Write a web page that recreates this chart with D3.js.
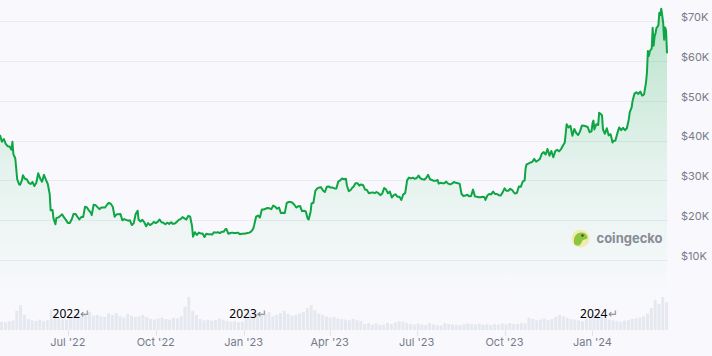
<!DOCTYPE html>
<html><head><meta charset="utf-8">
<script src="https://cdn.jsdelivr.net/npm/d3@7"></script>
<style>html,body{margin:0;padding:0;background:#f9f9fd;}svg{display:block;font-family:Inter,"Noto Sans",sans-serif;}</style>
</head><body><svg id="c" width="712" height="356"></svg>
<script>
// Bitcoin price (thousand USD)
const priceDates = [
"2022-04-21","2022-04-23","2022-04-25","2022-04-27","2022-04-29","2022-05-01","2022-05-03","2022-05-04","2022-05-05","2022-05-07","2022-05-09","2022-05-11","2022-05-12","2022-05-14","2022-05-15","2022-05-17","2022-05-19","2022-05-21","2022-05-23","2022-05-25","2022-05-27","2022-05-29","2022-05-31","2022-06-02","2022-06-04","2022-06-06","2022-06-08","2022-06-10","2022-06-12","2022-06-13","2022-06-15","2022-06-16","2022-06-18","2022-06-19","2022-06-21","2022-06-23","2022-06-25","2022-06-27","2022-06-29",
"2022-07-01","2022-07-03","2022-07-05","2022-07-07","2022-07-09","2022-07-11","2022-07-13","2022-07-15","2022-07-17","2022-07-19","2022-07-21","2022-07-23","2022-07-25","2022-07-26","2022-07-28","2022-07-30","2022-08-01","2022-08-03","2022-08-05","2022-08-07","2022-08-09","2022-08-11","2022-08-13","2022-08-15","2022-08-17","2022-08-19","2022-08-21","2022-08-23","2022-08-25","2022-08-27","2022-08-29","2022-08-31","2022-09-02","2022-09-04","2022-09-06","2022-09-08","2022-09-10","2022-09-12","2022-09-13","2022-09-15","2022-09-17","2022-09-19","2022-09-21","2022-09-23","2022-09-25","2022-09-27","2022-09-29",
"2022-10-01","2022-10-03","2022-10-05","2022-10-07","2022-10-09","2022-10-11","2022-10-13","2022-10-15","2022-10-17","2022-10-19","2022-10-21","2022-10-23","2022-10-25","2022-10-27","2022-10-29","2022-10-31","2022-11-02","2022-11-04","2022-11-06","2022-11-08","2022-11-09","2022-11-11","2022-11-13","2022-11-15","2022-11-17","2022-11-19","2022-11-21","2022-11-23","2022-11-25","2022-11-27","2022-11-29","2022-12-01","2022-12-03","2022-12-05","2022-12-07","2022-12-09","2022-12-11","2022-12-13","2022-12-14","2022-12-16","2022-12-18","2022-12-20","2022-12-22","2022-12-24","2022-12-26","2022-12-28","2022-12-30",
"2023-01-01","2023-01-03","2023-01-05","2023-01-07","2023-01-09","2023-01-11","2023-01-12","2023-01-14","2023-01-16","2023-01-18","2023-01-20","2023-01-22","2023-01-24","2023-01-26","2023-01-28","2023-01-30","2023-02-01","2023-02-03","2023-02-05","2023-02-07","2023-02-09","2023-02-11","2023-02-13","2023-02-15","2023-02-17","2023-02-19","2023-02-21","2023-02-23","2023-02-25","2023-02-27","2023-03-01","2023-03-03","2023-03-05","2023-03-07","2023-03-09","2023-03-10","2023-03-12","2023-03-13","2023-03-15","2023-03-17","2023-03-19","2023-03-21","2023-03-23","2023-03-25","2023-03-27","2023-03-29","2023-03-31",
"2023-04-02","2023-04-04","2023-04-06","2023-04-08","2023-04-10","2023-04-12","2023-04-14","2023-04-16","2023-04-18","2023-04-19","2023-04-21","2023-04-23","2023-04-25","2023-04-26","2023-04-28","2023-04-30","2023-05-02","2023-05-04","2023-05-06","2023-05-08","2023-05-10","2023-05-12","2023-05-14","2023-05-16","2023-05-18","2023-05-20","2023-05-22","2023-05-24","2023-05-26","2023-05-28","2023-05-30","2023-06-01","2023-06-03","2023-06-05","2023-06-07","2023-06-09","2023-06-11","2023-06-13","2023-06-15","2023-06-17","2023-06-19","2023-06-20","2023-06-21","2023-06-23","2023-06-25","2023-06-27","2023-06-29",
"2023-07-01","2023-07-03","2023-07-05","2023-07-07","2023-07-09","2023-07-11","2023-07-13","2023-07-15","2023-07-17","2023-07-19","2023-07-21","2023-07-23","2023-07-24","2023-07-26","2023-07-28","2023-07-30","2023-08-01","2023-08-03","2023-08-05","2023-08-07","2023-08-09","2023-08-11","2023-08-13","2023-08-15","2023-08-17","2023-08-19","2023-08-21","2023-08-23","2023-08-25","2023-08-27","2023-08-29","2023-08-31","2023-09-02","2023-09-04","2023-09-06","2023-09-08","2023-09-10","2023-09-11","2023-09-13","2023-09-15","2023-09-17","2023-09-19","2023-09-21","2023-09-23","2023-09-25","2023-09-27","2023-09-29",
"2023-10-01","2023-10-03","2023-10-05","2023-10-07","2023-10-09","2023-10-11","2023-10-12","2023-10-14","2023-10-16","2023-10-18","2023-10-20","2023-10-22","2023-10-23","2023-10-24","2023-10-26","2023-10-28","2023-10-30","2023-11-01","2023-11-03","2023-11-05","2023-11-07","2023-11-09","2023-11-11","2023-11-13","2023-11-15","2023-11-17","2023-11-19","2023-11-21","2023-11-23","2023-11-25","2023-11-27","2023-11-29","2023-12-01","2023-12-03","2023-12-05","2023-12-07","2023-12-09","2023-12-11","2023-12-13","2023-12-15","2023-12-17","2023-12-19","2023-12-21","2023-12-23","2023-12-25","2023-12-27","2023-12-29","2023-12-31",
"2024-01-01","2024-01-02","2024-01-03","2024-01-05","2024-01-07","2024-01-08","2024-01-10","2024-01-11","2024-01-12","2024-01-14","2024-01-16","2024-01-18","2024-01-20","2024-01-22","2024-01-23","2024-01-25","2024-01-27","2024-01-29","2024-01-31","2024-02-02","2024-02-04","2024-02-06","2024-02-08","2024-02-09","2024-02-11","2024-02-12","2024-02-14","2024-02-16","2024-02-18","2024-02-20","2024-02-22","2024-02-24","2024-02-26","2024-02-27","2024-02-28","2024-02-29","2024-03-01","2024-03-03","2024-03-04","2024-03-05","2024-03-06","2024-03-07","2024-03-08","2024-03-09","2024-03-10","2024-03-11","2024-03-12","2024-03-13","2024-03-14","2024-03-15","2024-03-16","2024-03-17","2024-03-18","2024-03-19"
];
const priceValues = [
41.4,39.7,40.4,39.2,38.6,38.5,37.7,39.7,36.6,35.5,30.3,29.0,28.9,30.1,31.3,30.4,30.3,29.4,29.1,29.6,28.6,29.4,31.8,30.5,29.7,31.4,30.2,29.1,26.6,22.5,22.6,20.4,19.0,20.6,20.7,21.1,21.5,20.7,20.1,
19.3,19.3,20.2,21.6,21.6,20.9,20.2,20.8,20.8,23.4,23.2,22.5,21.9,21.3,23.9,23.8,23.3,22.8,23.2,23.2,23.2,23.9,24.4,24.1,23.4,20.9,21.5,21.5,21.6,20.0,20.3,20.1,19.9,20.0,18.8,19.3,21.6,22.4,20.2,19.7,20.1,19.5,18.5,19.3,18.8,19.1,19.6,
19.3,19.6,20.2,19.5,19.4,19.0,19.4,19.1,19.5,19.1,19.2,19.6,20.1,20.3,20.8,20.5,20.2,21.1,20.9,18.5,15.9,17.0,16.3,16.9,16.7,16.7,15.8,16.6,16.5,16.5,16.4,17.0,16.9,17.0,16.8,17.1,17.1,17.8,17.8,16.6,16.8,16.9,16.8,16.8,16.9,16.5,16.6,
16.6,16.7,16.8,16.9,17.2,17.9,18.8,20.9,21.2,20.7,22.7,22.7,22.9,23.1,23.0,22.8,23.7,23.4,22.9,23.2,21.8,21.9,21.8,24.3,24.6,24.6,24.4,23.9,23.2,23.5,23.6,22.3,22.4,22.2,20.4,20.2,22.1,24.2,24.4,27.4,28.0,28.2,28.3,27.5,27.1,28.4,28.5,
28.2,28.2,28.0,28.0,29.7,30.0,30.5,30.3,30.4,28.8,27.3,27.6,28.3,28.4,29.3,29.3,28.7,29.0,28.8,27.7,27.6,26.8,26.9,27.0,26.8,27.1,26.8,26.3,26.7,28.1,27.7,26.8,27.2,25.7,26.3,26.5,25.9,25.9,25.1,26.5,26.8,28.3,30.0,30.7,30.5,30.7,30.4,
30.6,31.2,30.5,30.3,30.2,30.6,31.4,30.3,30.1,29.9,29.9,30.1,29.2,29.4,29.3,29.3,29.7,29.2,29.0,29.2,29.6,29.4,29.3,29.2,26.6,26.1,26.2,26.4,26.0,26.1,27.7,26.0,25.9,25.8,25.8,25.9,25.8,25.1,26.2,26.6,26.5,27.2,26.6,26.6,26.3,26.2,27.0,
28.0,27.4,27.4,27.9,27.6,26.9,26.7,26.9,28.5,28.4,29.7,30.0,33.0,34.0,34.2,34.5,34.6,35.4,34.7,35.0,35.4,36.7,37.1,36.5,37.9,36.2,37.4,35.8,37.3,37.7,37.3,37.8,38.7,39.5,44.1,43.3,43.7,41.2,42.9,41.9,41.4,42.3,43.8,43.7,43.6,43.4,42.1,42.3,
44.2,45.0,42.8,44.1,43.9,47.0,46.6,46.3,42.8,41.7,43.1,41.3,41.6,39.5,39.9,40.0,41.8,43.3,42.6,43.2,42.6,43.1,45.3,47.1,48.3,50.0,51.8,52.1,51.7,52.3,51.3,51.6,54.5,57.0,62.5,61.2,62.4,63.1,68.3,63.8,66.1,66.9,68.3,68.5,69.0,72.1,71.5,73.1,71.4,69.5,65.3,68.4,67.6,61.9
];
// Trading volume (billion USD), 4-day bins starting at volumeStart
const volumeStart = "2022-04-21";
const volumeValues = [
30,28,32,35, 70,90,55,40, 35,33,38,32,36, 75,60,45,
40,38,45,55,60,50,58,65,52,55,
50,48,60,55,62,50,45,58,52,48,50,55,47,
40,38,42,45,40,38,44,42,50, 85,120,70,55,
40,35,38,34,36,42,38,33,30,32,28,30,
45,60,75,62,55,58,65,50,55,62,70,58,52,55,60,66,80,90,72,
60,55,50,45,48,42,40,38,35,40,36,33,
22,25,20,24,18,20,26,22,28,32,30,25,22,20,24,21,19,26,20,18,17,25,22,20,19,18,21,24,22,20,23,19,21,18,22,20,24,21,25,23,22,26,24,
45,40,35,38,42,36,40,48,55,
50,45,40,38,35,32,40,45,55,60,48,42,38,35,32,30,34,36,40,42,45,50,
60,80,110,95,120,100
];
const yTicks = [10,20,30,40,50,60,70];
const yTickLabels = ["$10K","$20K","$30K","$40K","$50K","$60K","$70K"];
const xTickDates = ["2022-07-01","2022-10-01","2023-01-01","2023-04-01","2023-07-01","2023-10-01","2024-01-01"];
const xTickLabels = ["Jul '22","Oct '22","Jan '23","Apr '23","Jul '23","Oct '23","Jan '24"];
const yearLabels = ["2022","2023","2024"];
const yearLabelDates = ["2022-06-15","2022-12-17","2023-12-19"];

const parse = d3.utcParse("%Y-%m-%d");
const svg = d3.select("#c");
svg.append("rect").attr("width",712).attr("height",356).attr("fill","#f9f9fd");

const x = d3.scaleUtc().domain([parse("2022-04-21"), parse("2024-03-19")]).range([0, 667]);
const y = d3.scaleLinear().domain([0, 70]).range([300, 21]);
const data = priceDates.map((d,i)=>({date:parse(d), v:priceValues[i]}));

// gridlines
svg.append("g").selectAll("line").data(yTicks).join("line")
  .attr("x1",0).attr("x2",668).attr("y1",d=>Math.round(y(d))+0.5).attr("y2",d=>Math.round(y(d))+0.5)
  .attr("stroke","#ebebf1").attr("stroke-width",1);

// y labels
svg.append("g").selectAll("text").data(yTicks).join("text")
  .attr("x",681).attr("y",d=>y(d)-4).attr("dy","0.35em")
  .attr("font-size",11).attr("fill","#767b8a").text((d,i)=>yTickLabels[i]);

// volume bars
const vStart = parse(volumeStart);
const vy = d3.scaleLinear().domain([0,120]).range([330,297]);
svg.append("g").selectAll("rect").data(volumeValues).join("rect")
  .attr("x",(d,i)=>x(d3.utcDay.offset(vStart,i*4)))
  .attr("width",(d,i)=>Math.max(0.5, x(d3.utcDay.offset(vStart,(i+1)*4))-x(d3.utcDay.offset(vStart,i*4))-0.8))
  .attr("y",d=>vy(d)).attr("height",d=>330-vy(d))
  .attr("fill","#e6e8f0");

// x ticks & labels
svg.append("g").selectAll("line").data(xTickDates).join("line")
  .attr("x1",d=>Math.round(x(parse(d)))+0.5).attr("x2",d=>Math.round(x(parse(d)))+0.5)
  .attr("y1",330).attr("y2",336).attr("stroke","#e4e5ec");
svg.append("g").selectAll("text").data(xTickDates).join("text")
  .attr("x",d=>x(parse(d))).attr("y",342).attr("dy","0.35em").attr("text-anchor","middle")
  .attr("font-size",11).attr("fill","#767b8a").text((d,i)=>xTickLabels[i]);

// gradient area
const defs = svg.append("defs");
const grad = defs.append("linearGradient").attr("id","g").attr("gradientUnits","userSpaceOnUse")
  .attr("x1",0).attr("x2",0).attr("y1",10).attr("y2",300);
grad.append("stop").attr("offset",0).attr("stop-color","#00a83e").attr("stop-opacity",0.26);
grad.append("stop").attr("offset",0.55).attr("stop-color","#00a83e").attr("stop-opacity",0.08);
grad.append("stop").attr("offset",1).attr("stop-color","#00a83e").attr("stop-opacity",0.0);

svg.append("path").datum(data)
  .attr("d", d3.area().x(d=>x(d.date)).y0(y(0)).y1(d=>y(d.v)))
  .attr("fill","url(#g)");
svg.append("path").datum(data)
  .attr("d", d3.line().x(d=>x(d.date)).y(d=>y(d.v)))
  .attr("fill","none").attr("stroke","#0ea544").attr("stroke-width",2).attr("stroke-linejoin","round");

// coingecko watermark
const wm = svg.append("g").attr("transform","translate(580.5,238.5)");
wm.append("circle").attr("r",9).attr("fill","#f2ebb0");
wm.append("path").attr("d","M-6,6 C-8,0 -5,-6 1,-6 C5,-6 7,-3 7,0 C5,1 3,1 2,2 C1,4 0,6 -1,7 C-3,7 -5,7 -6,6 Z").attr("fill","#8cc63f");
wm.append("circle").attr("cx",2).attr("cy",-3).attr("r",1.2).attr("fill","#3d4a2a");
svg.append("text").attr("x",596.5).attr("y",238.5).attr("dy","0.35em")
  .attr("font-size",13).attr("font-weight",700).attr("fill","#878c97").attr("font-family","Inter, sans-serif").text("coingecko");

// year notes
const yl = svg.append("g").selectAll("text").data(yearLabels).join("text")
  .attr("x",(d,i)=>x(parse(yearLabelDates[i]))).attr("y",318)
  .attr("font-size",12).attr("font-family","'Noto Sans', sans-serif").attr("fill","#000");
yl.append("tspan").text(d=>d);
yl.append("tspan").attr("fill","#8a8a8a").text("↵");
</script></body></html>
